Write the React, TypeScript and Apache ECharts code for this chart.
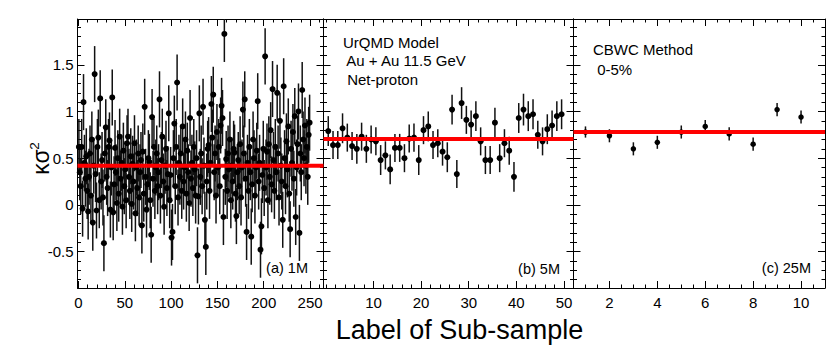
import React, { useEffect, useRef } from "react";
import * as echarts from "echarts";

// ---- data ----
// Panel (a) 1M events, 250 sub-samples
const A_VALUES = [
  0.62, 0.35, 0.2, 0.62, -0.04, 1.1, 0.45, 0.28, 0.52, 0.15,
  -0.07, 0.3, 0.55, 0.1, 0.7, -0.19, 0.42, 1.4, 0.33, -0.06,
  0.62, 0.72, 0.05, 1.14, 0.25, 0.48, 0.08, -0.41, 0.55, 0.83,
  0.3, 0.18, 0.62, 0.69, -0.05, 0.4, 1.15, -0.08, 0.22, 0.61,
  0.35, 0.02, 0.5, 0.12, 0.73, 0.28, 0.45, -0.02, 0.58, 0.2,
  0.38, 0.05, 0.66, 0.73, 0.3, 0.15, 0.52, 0.01, 0.44, 0.25,
  0.66, -0.09, 0.4, 0.18, 0.55, 0.08, 0.35, 0.48, -0.22, 0.57,
  0.12, 1.05, 0.3, -0.05, 0.22, 0.5, 0.46, 0.05, -0.32, 0.94,
  0.28, 0.62, 0.15, 0.4, 0.55, 0.2, 0.35, 1.13, 0.1, 0.48,
  0.73, 0.25, -0.02, 0.42, 0.6, 0.18, 0.33, 0.98, 0.05, 0.32,
  -0.35, -0.29, 0.5, 0.87, 0.2, 0.62, 1.31, 0.08, 0.45, 0.3,
  0.55, 0.15, 0.84, 0.25, 0.4, 0.7, 0.12, 0.58, 0.35, 0.02,
  0.93, 0.28, 0.45, 0.18, 0.62, 0.38, 0.1, 0.5, -0.54, 0.09,
  0.98, 0.3, 0.55, 0.2, 1.05, 0.42, -0.16, -0.45, 0.25, 0.6,
  0.64, 0.15, 0.45, 1.08, 0.72, 1.18, 0.35, 0.55, 0.1, 0.78,
  0.4, 0.62, 0.2, 0.85, 1.06, 0.93, -0.13, 1.83, 0.3, 0.49,
  0.15, 0.55, 0.38, 0.7, 0.05, 0.42, 0.25, 0.6, 0.56, 0.12,
  -0.12, 0.35, 0.48, 0.2, 0.65, 0.08, 0.4, 1.02, 0.55, 1.13,
  0.28, -0.29, 0.45, 0.15, 0.62, 0.35, -0.34, 0.22, 0.7, 0.5,
  0.1, 0.4, 0.58, 1.11, 0.25, 0.45, -0.48, -0.23, 0.32, 0.6,
  0.18, 1.59, 0.4, 0.57, 0.05, 0.65, 0.3, 0.8, 0.22, 1.24,
  0.48, 0.15, 0.62, 0.35, 1.2, 0.55, 0.08, 0.9, 0.42, 0.25,
  -0.16, 1.27, 0.5, 0.2, 0.68, 0.38, 0.84, 0.12, -0.26, 0.6,
  0.45, 0.78, 0.28, 0.95, -0.13, 0.4, 0.65, 1.0, -0.3, 0.55,
  0.35, 1.23, 0.7, 0.5, 0.85, 0.42, 0.62, 0.3, 0.75, 0.88,
];
const A_ERR = 0.3;

// Panel (b) 5M events, 50 sub-samples
const B_VALUES = [
  0.79, 0.64, 0.64, 0.82, 0.72, 0.63, 0.6, 0.73, 0.6, 0.7,
  0.68, 0.48, 0.53, 0.38, 0.61, 0.61, 0.5, 0.71, 0.72, 0.48,
  0.8, 0.84, 0.64, 0.66, 0.57, 0.51, 1.02, 0.33, 1.09, 0.91,
  0.86, 0.95, 0.68, 0.48, 0.48, 0.88, 0.5, 0.66, 0.58, 0.3,
  0.93, 1.02, 0.95, 0.97, 0.75, 0.68, 0.81, 0.85, 0.95, 0.97,
];
const B_ERRS = [
  0.16, 0.15, 0.15, 0.16, 0.15, 0.15, 0.16, 0.15, 0.15, 0.15,
  0.15, 0.16, 0.15, 0.16, 0.15, 0.15, 0.15, 0.15, 0.15, 0.16,
  0.15, 0.16, 0.15, 0.15, 0.15, 0.16, 0.16, 0.15, 0.17, 0.15,
  0.15, 0.16, 0.15, 0.15, 0.15, 0.16, 0.15, 0.15, 0.15, 0.16,
  0.16, 0.17, 0.16, 0.16, 0.15, 0.15, 0.16, 0.16, 0.16, 0.16,
];

// Panel (c) 25M events, 10 sub-samples
const C_VALUES = [0.78, 0.74, 0.6, 0.67, 0.78, 0.84, 0.76, 0.65, 1.02, 0.94];
const C_ERRS = [0.06, 0.07, 0.07, 0.07, 0.07, 0.07, 0.07, 0.07, 0.07, 0.07];

// Mean lines
const MEANS = [0.42, 0.704, 0.78];

// Tick labels
const A_X_TICKS = [0, 50, 100, 150, 200, 250];
const B_X_TICKS = [10, 20, 30, 40, 50];
const C_X_TICKS = [2, 4, 6, 8, 10];
const Y_TICKS = [-0.5, 0, 0.5, 1, 1.5];

const PANEL_NAMES = ["(a) 1M", "(b) 5M", "(c) 25M"];
const NOTE_B = ["UrQMD Model", " Au + Au 11.5 GeV", " Net-proton"];
const NOTE_C = ["CBWC Method", " 0-5%"];
const X_TITLE = "Label of Sub-sample";

const FONT = '"Liberation Sans", Arial, Helvetica, sans-serif';

function steps(start: number, end: number, step: number): number[] {
  const out: number[] = [];
  const n = Math.round((end - start) / step);
  for (let i = 0; i <= n; i++) out.push(Math.round((start + i * step) * 1000) / 1000);
  return out;
}

const Y_MIN = -0.89;
const Y_MAX = 1.99;
const GRID_TOP = 19;
const GRID_H = 269;

const PANELS = [
  {
    left: 77.5, width: 246, xMin: -1, xMax: 264.5,
    ticks: A_X_TICKS, minor: steps(0, 260, 10),
    values: A_VALUES, errs: A_VALUES.map(() => A_ERR), xOffset: 0.5,
  },
  {
    left: 323.5, width: 250, xMin: -0.5, xMax: 52,
    ticks: B_X_TICKS, minor: steps(0, 52, 2),
    values: B_VALUES, errs: B_ERRS, xOffset: 0.5,
  },
  {
    left: 573.5, width: 251.5, xMin: 0.5, xMax: 11,
    ticks: C_X_TICKS, minor: steps(1, 10.5, 0.5),
    values: C_VALUES, errs: C_ERRS, xOffset: 1,
  },
];
const Y_MINOR = steps(-0.8, 1.9, 0.1);

function buildOption() {
  const grid: any[] = [];
  const xAxis: any[] = [];
  const yAxis: any[] = [];
  const series: any[] = [];
  const line = { color: "#000", width: 1 };

  PANELS.forEach((p, g) => {
    grid.push({ left: p.left, top: GRID_TOP, width: p.width, height: GRID_H, containLabel: false });
    const xBase = { gridIndex: g, type: "value", min: p.xMin, max: p.xMax, splitLine: { show: false } };
    const yBase = { gridIndex: g, type: "value", min: Y_MIN, max: Y_MAX, splitLine: { show: false } };
    const tick = (vals: number[], len: number) => ({
      show: true, inside: true, length: len, customValues: vals, lineStyle: line,
    });
    // x axes: bottom major (labels), bottom minor, top major, top minor
    xAxis.push({
      ...xBase, position: "bottom",
      axisLine: { show: true, onZero: false, lineStyle: line },
      axisTick: tick(p.ticks, 7),
      axisLabel: {
        show: true, customValues: p.ticks, margin: 7, color: "#000",
        fontSize: 15, fontFamily: FONT,
      },
    });
    xAxis.push({
      ...xBase, position: "bottom",
      axisLine: { show: false, onZero: false },
      axisTick: tick(p.minor, 3.5), axisLabel: { show: false },
    });
    xAxis.push({
      ...xBase, position: "top",
      axisLine: { show: true, onZero: false, lineStyle: line },
      axisTick: tick(p.ticks, 7), axisLabel: { show: false },
    });
    xAxis.push({
      ...xBase, position: "top",
      axisLine: { show: false, onZero: false },
      axisTick: tick(p.minor, 3.5), axisLabel: { show: false },
    });
    // y axes: left major, left minor, right major, right minor
    yAxis.push({
      ...yBase, position: "left",
      axisLine: { show: true, onZero: false, lineStyle: line },
      axisTick: tick(Y_TICKS, 7),
      axisLabel: {
        show: g === 0, customValues: Y_TICKS, margin: 4, color: "#000",
        fontSize: 15, fontFamily: FONT,
      },
    });
    yAxis.push({
      ...yBase, position: "left",
      axisLine: { show: false, onZero: false },
      axisTick: tick(Y_MINOR, 3.5), axisLabel: { show: false },
    });
    yAxis.push({
      ...yBase, position: "right",
      axisLine: { show: true, onZero: false, lineStyle: line },
      axisTick: tick(Y_TICKS, 7), axisLabel: { show: false },
    });
    yAxis.push({
      ...yBase, position: "right",
      axisLine: { show: false, onZero: false },
      axisTick: tick(Y_MINOR, 3.5), axisLabel: { show: false },
    });

    const xi = g * 4;
    const yi = g * 4;
    const errData = p.values.map((v, i) => [i + p.xOffset, v - p.errs[i], v + p.errs[i]]);
    const ptData = p.values.map((v, i) => [i + p.xOffset, v]);

    series.push({
      type: "custom",
      xAxisIndex: xi,
      yAxisIndex: yi,
      encode: { x: 0, y: [1, 2] },
      data: errData,
      z: 2,
      renderItem: (params: any, api: any) => {
        const x = api.value(0);
        const lo = Math.max(api.value(1), Y_MIN);
        const hi = Math.min(api.value(2), Y_MAX);
        const a = api.coord([x, lo]);
        const b = api.coord([x, hi]);
        return {
          type: "line",
          shape: { x1: a[0], y1: a[1], x2: b[0], y2: b[1] },
          style: { stroke: "#111", lineWidth: 1.5 },
        };
      },
    });
    series.push({
      type: "scatter",
      xAxisIndex: xi,
      yAxisIndex: yi,
      data: ptData,
      symbol: "circle",
      symbolSize: g === 2 ? 5.5 : 6,
      itemStyle: { color: "#000", opacity: 1 },
      z: 3,
    });
    series.push({
      type: "line",
      xAxisIndex: xi,
      yAxisIndex: yi,
      data: [[p.xMin, MEANS[g]], [p.xMax, MEANS[g]]],
      symbol: "none",
      lineStyle: { color: "#ff0000", width: 4 },
      z: 5,
    });
  });

  const txt = (text: string, x: number, y: number, size: number, align = "left", extra: any = {}) => ({
    type: "text",
    x,
    y,
    z: 100,
    ...extra,
    style: {
      text,
      fill: "#000",
      fontSize: size,
      fontFamily: FONT,
      align,
      verticalAlign: "middle",
    },
  });

  const graphic: any[] = [
    txt(PANEL_NAMES[0], 308, 268, 14.5, "right"),
    txt(PANEL_NAMES[1], 560, 269, 14.5, "right"),
    txt(PANEL_NAMES[2], 811, 268, 14.5, "right"),
    txt(NOTE_B[0], 343, 42, 15),
    txt(NOTE_B[1], 343, 60.5, 15),
    txt(NOTE_B[2], 343, 79.5, 15),
    txt(NOTE_C[0], 593, 49.5, 15),
    txt(NOTE_C[1], 593, 69, 15),
    txt(X_TITLE, 459.5, 330, 27, "center"),
    txt("κσ", 41, 162, 23, "center", { rotation: Math.PI / 2 }),
    txt("2", 34.5, 146, 13.5, "center", { rotation: Math.PI / 2 }),
  ];

  return {
    animation: false,
    backgroundColor: "#fff",
    grid,
    xAxis,
    yAxis,
    series,
    graphic,
  };
}

export default function App() {
  const ref = useRef<HTMLDivElement>(null);
  useEffect(() => {
    if (!ref.current) return;
    const chart = echarts.init(ref.current, undefined, { renderer: "svg" });
    chart.setOption(buildOption() as any);
    return () => chart.dispose();
  }, []);
  return (
    <div
      ref={ref}
      style={{ position: "fixed", left: 0, top: 0, width: 830, height: 358, background: "#fff" }}
    />
  );
}
